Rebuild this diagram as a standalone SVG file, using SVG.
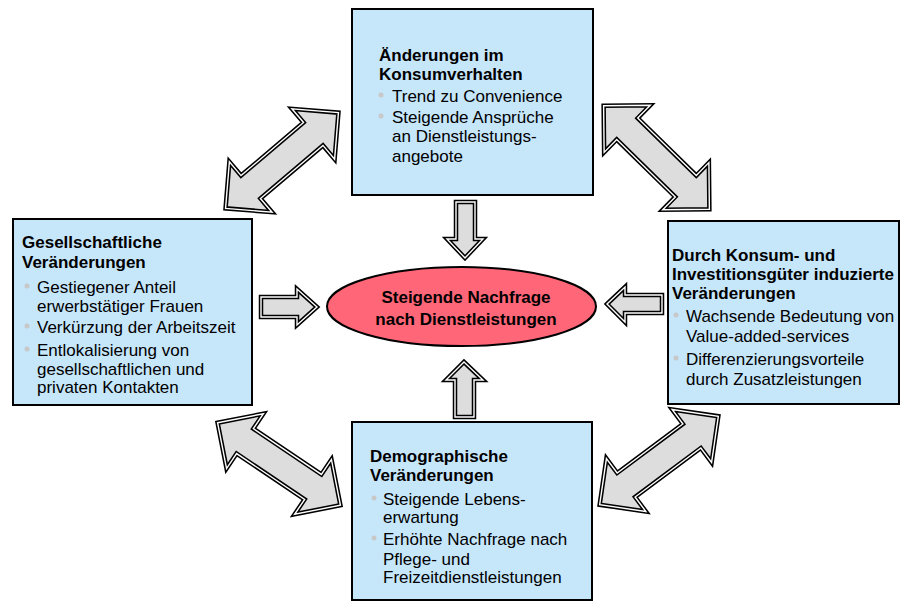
<svg xmlns="http://www.w3.org/2000/svg" xmlns:xlink="http://www.w3.org/1999/xlink" width="901" height="606" viewBox="0 0 901 606">
<style>
.box{fill:#C6E6FA;stroke:#000;stroke-width:2}
.t{font-family:"Liberation Sans",Arial,sans-serif;font-size:17px;fill:#000}
.b{font-weight:bold}
.dot{fill:#C8C8C8}
.arO{fill:#DDDDDD;stroke:#000;stroke-width:4.5;stroke-linejoin:miter}
.arI{fill:none;stroke:#fff;stroke-width:1.4;stroke-linejoin:miter}
</style>
<defs>
<path id="dbl" d="M -74 0 L -41 -33 L -41 -15 L 41 -15 L 41 -33 L 74 0 L 41 33 L 41 15 L -41 15 L -41 33 Z"/>
</defs>
<rect width="901" height="606" fill="#fff"/>
<g id="connectors">
  <g transform="translate(282,160.5) rotate(-40.3)"><use xlink:href="#dbl" class="arO"/><use xlink:href="#dbl" class="arI"/></g>
  <g transform="translate(656.5,157.5) rotate(44.4)"><use xlink:href="#dbl" class="arO"/><use xlink:href="#dbl" class="arI"/></g>
  <g transform="translate(279,464) rotate(33.9)"><use xlink:href="#dbl" class="arO"/><use xlink:href="#dbl" class="arI"/></g>
  <g transform="translate(659,460.5) rotate(-36.7)"><use xlink:href="#dbl" class="arO"/><use xlink:href="#dbl" class="arI"/></g>
  <path class="arO" d="M456 202 L475 202 L475 239 L483 239 L465 258 L447 239 L456 239 Z"/>
  <path class="arI" d="M456 202 L475 202 L475 239 L483 239 L465 258 L447 239 L456 239 Z"/>
  <path class="arO" d="M464 362 L483 380 L474 380 L474 417 L455 417 L455 380 L446 380 Z"/>
  <path class="arI" d="M464 362 L483 380 L474 380 L474 417 L455 417 L455 380 L446 380 Z"/>
  <path class="arO" d="M261 297 L297 297 L297 289 L317 307 L297 325 L297 317 L261 317 Z"/>
  <path class="arI" d="M261 297 L297 297 L297 289 L317 307 L297 325 L297 317 L261 317 Z"/>
  <path class="arO" d="M607 304 L625 287 L625 295 L662 295 L662 313 L625 313 L625 322 Z"/>
  <path class="arI" d="M607 304 L625 287 L625 295 L662 295 L662 313 L625 313 L625 322 Z"/>
</g>
<g id="center">
  <ellipse cx="461.5" cy="306.5" rx="134.5" ry="39.5" fill="#FF6677" stroke="#000" stroke-width="2"/>
  <text class="t b" x="466" y="303" text-anchor="middle">Steigende Nachfrage</text>
  <text class="t b" x="466" y="325" text-anchor="middle">nach Dienstleistungen</text>
</g>
<g id="top">
  <rect class="box" x="352" y="9" width="241" height="186"/>
  <text class="t b" x="379" y="61">Änderungen im</text>
  <text class="t b" x="379" y="80">Konsumverhalten</text>
  <circle class="dot" cx="381" cy="95" r="2.5"/>
  <text class="t" x="392" y="102">Trend zu Convenience</text>
  <circle class="dot" cx="381" cy="116" r="2.5"/>
  <text class="t" x="392" y="123">Steigende Ansprüche</text>
  <text class="t" x="392" y="142">an Dienstleistungs-</text>
  <text class="t" x="392" y="162">angebote</text>
</g>
<g id="left">
  <rect class="box" x="13" y="219" width="239" height="186"/>
  <text class="t b" x="22" y="248">Gesellschaftliche</text>
  <text class="t b" x="22" y="268">Veränderungen</text>
  <circle class="dot" cx="27" cy="286" r="2.5"/>
  <text class="t" x="37" y="293">Gestiegener Anteil</text>
  <text class="t" x="37" y="312">erwerbstätiger Frauen</text>
  <circle class="dot" cx="27" cy="326" r="2.5"/>
  <text class="t" x="37" y="333">Verkürzung der Arbeitszeit</text>
  <circle class="dot" cx="27" cy="349" r="2.5"/>
  <text class="t" x="37" y="356">Entlokalisierung von</text>
  <text class="t" x="37" y="375">gesellschaftlichen und</text>
  <text class="t" x="37" y="393">privaten Kontakten</text>
</g>
<g id="right">
  <rect class="box" x="668" y="221" width="231" height="183"/>
  <text class="t b" x="672" y="261">Durch Konsum- und</text>
  <text class="t b" x="672" y="280">Investitionsgüter induzierte</text>
  <text class="t b" x="672" y="299">Veränderungen</text>
  <circle class="dot" cx="676" cy="315" r="2.5"/>
  <text class="t" x="686" y="322">Wachsende Bedeutung von</text>
  <text class="t" x="686" y="342">Value-added-services</text>
  <circle class="dot" cx="676" cy="358" r="2.5"/>
  <text class="t" x="686" y="365">Differenzierungsvorteile</text>
  <text class="t" x="686" y="385">durch Zusatzleistungen</text>
</g>
<g id="bottom">
  <rect class="box" x="352" y="422" width="240" height="178"/>
  <text class="t b" x="370" y="462">Demographische</text>
  <text class="t b" x="370" y="481">Veränderungen</text>
  <circle class="dot" cx="374" cy="498" r="2.5"/>
  <text class="t" x="383" y="505">Steigende Lebens-</text>
  <text class="t" x="383" y="523">erwartung</text>
  <circle class="dot" cx="374" cy="538" r="2.5"/>
  <text class="t" x="383" y="545">Erhöhte Nachfrage nach</text>
  <text class="t" x="383" y="565">Pflege- und</text>
  <text class="t" x="383" y="583">Freizeitdienstleistungen</text>
</g>
</svg>
